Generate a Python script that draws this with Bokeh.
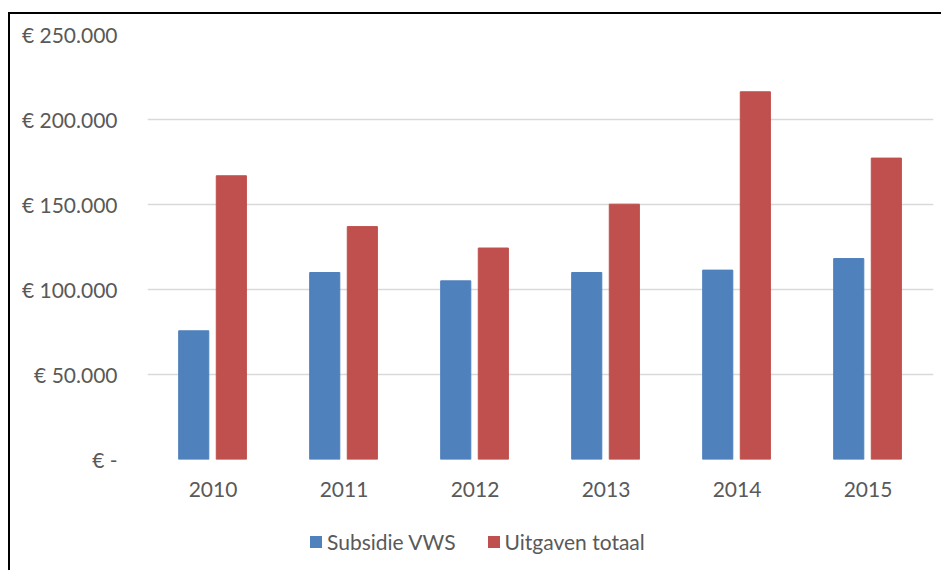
from bokeh.plotting import figure
from bokeh.models import FactorRange, Range1d, FixedTicker, Legend, LegendItem, ColumnDataSource
from bokeh.layouts import column
from bokeh.transform import dodge
from bokeh.embed import file_html
from bokeh.resources import INLINE

years = ["2010", "2011", "2012", "2013", "2014", "2015"]
subsidie_vws = [75700, 110000, 105100, 110000, 111400, 118200]
uitgaven_totaal = [166900, 137000, 124400, 150200, 216300, 177300]
y_ticks = [0, 50000, 100000, 150000, 200000, 250000]
y_tick_labels = ["€ -", "€ 50.000", "€ 100.000", "€ 150.000", "€ 200.000", "€ 250.000"]
series_names = ["Subsidie VWS", "Uitgaven totaal"]

FONT = "Lato"
TXT = "#595959"
BLUE = "#4F81BD"
RED = "#C0504D"

src = ColumnDataSource(dict(year=years, sub=subsidie_vws, uit=uitgaven_totaal))

p = figure(width=933, height=501, x_range=FactorRange(*years), y_range=Range1d(0, 250000),
           output_backend="svg", toolbar_location=None,
           min_border_left=137, min_border_right=10, min_border_top=20, min_border_bottom=56)
p.margin = (12, 0, 0, 8)
p.styles = {"border-left": "2px solid #000", "border-top": "2px solid #000"}
p.outline_line_color = None
p.background_fill_color = "white"
p.border_fill_color = "white"

p.vbar(x=dodge("year", -0.147, range=p.x_range), top="sub", width=0.23, source=src,
       fill_color=BLUE, line_color=BLUE)
p.vbar(x=dodge("year", 0.14, range=p.x_range), top="uit", width=0.23, source=src,
       fill_color=RED, line_color=RED)

p.xgrid.grid_line_color = None
p.ygrid.grid_line_color = "#D9D9D9"
p.ygrid.grid_line_width = 1.5

p.yaxis.ticker = FixedTicker(ticks=y_ticks)
p.yaxis.major_label_overrides = {t: l for t, l in zip(y_ticks, y_tick_labels)}
for ax in (p.xaxis[0], p.yaxis[0]):
    ax.axis_line_color = None
    ax.major_tick_line_color = None
    ax.minor_tick_line_color = None
    ax.major_label_text_font = FONT
    ax.major_label_text_font_size = "21px"
    ax.major_label_text_color = TXT
p.yaxis.major_label_standoff = 24
p.xaxis.major_label_standoff = 16

# legend strip below the chart (legend-only renderers, hidden)
pl = figure(width=933, height=57, x_range=FactorRange(*years), y_range=Range1d(-2e9, -1e9),
            output_backend="svg", toolbar_location=None, min_border=0)
pl.margin = (0, 0, 0, 8)
pl.styles = {"border-left": "2px solid #000"}
pl.outline_line_color = None
pl.axis.visible = False
pl.grid.grid_line_color = None
l1 = pl.vbar(x="year", top="sub", width=0.23, source=src, fill_color=BLUE, line_color=None)
l2 = pl.vbar(x="year", top="uit", width=0.23, source=src, fill_color=RED, line_color=None)
l1.visible = False
l2.visible = False

legend = Legend(items=[LegendItem(label=series_names[0], renderers=[l1]),
                       LegendItem(label=series_names[1], renderers=[l2])],
                orientation="horizontal", location=(161, 16))
legend.label_text_font = FONT
legend.label_text_font_size = "21px"
legend.label_text_color = TXT
legend.glyph_width = 15
legend.glyph_height = 15
legend.label_standoff = 4
legend.spacing = 30
legend.padding = 0
legend.margin = 0
legend.border_line_color = None
legend.background_fill_alpha = 0
legend.inactive_fill_alpha = 0
pl.add_layout(legend, "center")

open("out.html", "w").write(file_html(column(p, pl, spacing=0), INLINE))
